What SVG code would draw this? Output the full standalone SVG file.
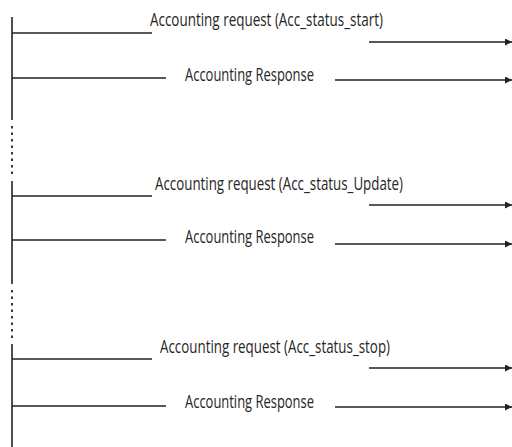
<svg xmlns="http://www.w3.org/2000/svg" width="512" height="447" viewBox="0 0 512 447">
<defs>
<style>
.ln{stroke:#222222;stroke-width:1.6;fill:none}
.dot{stroke:#222222;stroke-width:1.8;stroke-dasharray:2.5,4;fill:none}
.t{font-family:"Open Sans","Liberation Sans",sans-serif;font-size:18.5px;fill:#262626}
</style>
<marker id="ah" viewBox="0 0 7 7" refX="7" refY="3.5" markerWidth="7" markerHeight="7" markerUnits="userSpaceOnUse" orient="auto">
<polygon points="0,0 7,3.5 0,7" fill="#222222"/>
</marker>
</defs>
<rect width="512" height="447" fill="#ffffff"/>
<g id="lifeline">
<line class="ln" x1="12" y1="17" x2="12" y2="120"/>
<line class="dot" x1="12" y1="126" x2="12" y2="176"/>
<line class="ln" x1="12" y1="181" x2="12" y2="284"/>
<line class="dot" x1="12" y1="290" x2="12" y2="338"/>
<line class="ln" x1="12" y1="344" x2="12" y2="447"/>
</g>
<g id="connectors">
<line class="ln" x1="12" y1="33" x2="152" y2="33"/>
<line class="ln" x1="369" y1="42" x2="512" y2="42" marker-end="url(#ah)"/>
<line class="ln" x1="12" y1="78" x2="166" y2="78"/>
<line class="ln" x1="335" y1="80" x2="512" y2="80" marker-end="url(#ah)"/>
<line class="ln" x1="12" y1="196" x2="152" y2="196"/>
<line class="ln" x1="369" y1="205" x2="512" y2="205" marker-end="url(#ah)"/>
<line class="ln" x1="12" y1="240" x2="166" y2="240"/>
<line class="ln" x1="335" y1="244" x2="512" y2="244" marker-end="url(#ah)"/>
<line class="ln" x1="12" y1="359" x2="152" y2="359"/>
<line class="ln" x1="369" y1="368" x2="512" y2="368" marker-end="url(#ah)"/>
<line class="ln" x1="12" y1="406" x2="166" y2="406"/>
<line class="ln" x1="335" y1="407" x2="512" y2="407" marker-end="url(#ah)"/>
</g>
<g id="msg1">
<text class="t" x="150" y="26" textLength="233" lengthAdjust="spacingAndGlyphs">Accounting request (Acc_status_start)</text>
</g>
<g id="msg2">
<text class="t" x="185" y="81" textLength="129" lengthAdjust="spacingAndGlyphs">Accounting Response</text>
</g>
<g id="msg3">
<text class="t" x="155" y="190" textLength="248" lengthAdjust="spacingAndGlyphs">Accounting request (Acc_status_Update)</text>
</g>
<g id="msg4">
<text class="t" x="185" y="243" textLength="129" lengthAdjust="spacingAndGlyphs">Accounting Response</text>
</g>
<g id="msg5">
<text class="t" x="160" y="353" textLength="230" lengthAdjust="spacingAndGlyphs">Accounting request (Acc_status_stop)</text>
</g>
<g id="msg6">
<text class="t" x="185" y="408" textLength="129" lengthAdjust="spacingAndGlyphs">Accounting Response</text>
</g>
</svg>
